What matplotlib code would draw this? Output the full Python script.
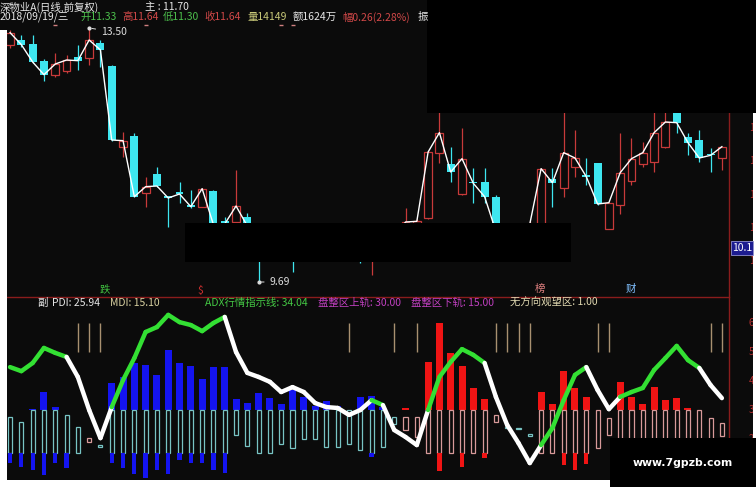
import numpy as np
import matplotlib
matplotlib.use('Agg')
import matplotlib.pyplot as plt
from matplotlib.patches import Rectangle
from matplotlib.transforms import blended_transform_factory

plt.rcParams['font.family'] = ['Noto Sans CJK SC', 'DejaVu Sans']

W, H = 756, 487
BG = '#0b0b0b'

### daily candles (price) ###
opens = [13.25, 13.32, 13.26, 13.01, 12.80, 12.86, 13.07, 13.05, 13.28, 12.93,
         11.72, 11.88, 11.03, 11.31, 10.97, 11.02, 10.83, 10.82, 11.06, 10.60,
         10.59, 10.66, 10.50, 10.20, 10.30, 10.30, 10.20, 10.28, 10.25, 10.38,
         10.30, 10.15, 10.05, 10.20, 10.30, 10.50, 10.58, 10.65, 11.63, 11.46,
         11.01, 11.19, 11.19, 10.97, 10.45, 10.30, 10.40, 10.40, 11.24, 11.10,
         11.42, 11.28, 11.48, 10.49, 10.85, 11.21, 11.46, 11.49, 11.72, 12.30,
         11.87, 11.82, 11.60, 11.55]
highs = [13.47, 13.40, 13.40, 13.04, 13.13, 13.10, 13.25, 13.50, 13.32, 12.95,
         11.94, 11.92, 11.27, 11.42, 10.98, 11.19, 11.07, 11.10, 11.07, 10.66,
         11.37, 10.73, 10.55, 10.35, 10.40, 10.40, 10.35, 10.40, 10.45, 10.45,
         10.38, 10.22, 10.30, 10.35, 10.42, 10.80, 10.64, 11.66, 12.30, 11.72,
         12.00, 11.40, 11.40, 11.00, 10.55, 10.50, 10.60, 11.40, 11.40, 12.30,
         11.97, 11.55, 11.48, 10.88, 11.93, 11.85, 11.79, 12.24, 12.35, 12.35,
         11.93, 11.97, 11.70, 11.72]
lows = [13.20, 13.22, 12.98, 12.71, 12.77, 12.83, 12.87, 12.95, 12.92, 11.80,
        11.57, 10.96, 10.82, 11.12, 10.52, 10.88, 10.80, 10.81, 10.52, 10.45,
        10.55, 10.48, 9.69, 10.10, 10.15, 9.84, 10.10, 10.15, 10.18, 10.22,
        10.10, 9.97, 9.80, 10.12, 10.20, 10.45, 10.50, 10.63, 11.48, 11.19,
        11.00, 10.88, 10.88, 10.40, 10.20, 10.22, 10.30, 10.38, 10.82, 10.97,
        11.27, 11.15, 10.85, 10.49, 10.71, 11.15, 11.42, 11.34, 11.70, 11.93,
        11.60, 11.49, 11.34, 11.37]
closes = [13.43, 13.25, 12.99, 12.80, 12.96, 13.02, 13.01, 13.32, 13.17, 11.82,
          11.81, 10.97, 11.12, 11.13, 10.95, 11.01, 10.82, 11.09, 10.55, 10.56,
          10.83, 10.53, 10.20, 10.30, 10.22, 10.20, 10.28, 10.25, 10.38, 10.30,
          10.15, 10.05, 10.20, 10.30, 10.35, 10.59, 10.60, 11.64, 11.93, 11.34,
          11.54, 11.17, 10.97, 10.45, 10.30, 10.40, 10.56, 11.39, 11.18, 11.63,
          11.55, 11.27, 10.86, 10.88, 11.33, 11.54, 11.63, 11.93, 12.09, 12.08,
          11.78, 11.55, 11.59, 11.72]
top_marks = [4, 12, 24, 25]
price_ticks = [10.0, 10.5, 11.0, 11.5, 12.0]

### ADX panel ###
adx = [44.8, 43.4, 46.2, 51.4, 49.7, 48.3, 41.4, 30.0, 20.3, 31.0,
       40.3, 47.9, 56.9, 58.6, 62.8, 60.3, 59.3, 57.2, 60.0, 62.1,
       50.0, 42.8, 41.4, 39.7, 36.2, 37.9, 36.2, 32.4, 31.0, 30.7,
       28.3, 30.0, 33.4, 31.7, 23.1, 20.7, 17.9, 30.0, 41.4, 46.6,
       51.0, 49.0, 46.2, 34.5, 24.8, 18.6, 11.7, 17.9, 23.8, 33.4,
       42.1, 44.8, 36.9, 30.3, 34.5, 36.2, 37.6, 43.8, 47.9, 52.1,
       47.2, 44.5, 38.6, 34.1]
adx_green = [1, 1, 1, 1, 1, 1, 0, 0, 0, 0, 1, 1, 1, 1, 1, 1, 1, 1, 1, 1,
             0, 0, 0, 0, 0, 0, 0, 0, 0, 0, 0, 0, 0, 1, 0, 0, 0, 0, 1, 1,
             1, 1, 1, 0, 0, 0, 0, 0, 1, 1, 1, 1, 0, 0, 0, 1, 1, 1, 1, 1,
             1, 1, 0, 0]
bull = [0] * 7 + [1] + [0] * 27 + [1] * 9 + [0] * 3 + [1] * 17
N = None
up_bar = [N, N, 30.3, 36.2, 31.0, N, N, N, N, 39.3,
          41.4, 46.2, 45.5, 42.1, 50.7, 46.2, 45.2, 40.7, 44.8, 44.8,
          33.8, 32.4, 35.9, 34.1, 32.1, 36.9, 34.5, 31.4, 33.1, 31.4,
          N, 34.5, 34.8, 31.0, N, 30.7, N, 46.6, 60.0, 49.7,
          45.2, 37.6, 33.8, N, N, N, N, 36.2, 32.1, 43.4,
          37.6, 34.5, N, N, 39.7, 34.5, 32.1, 37.9, 33.4, 34.1,
          30.7, N, N, N]
hollow_top = [27.6, 25.9, 30, 30, 30, 28.3, 24.1, 20.3, 17.9, 30,
              30, 30, 30, 30, 30, 30, 30, 30, 30, 30,
              30, 30, 30, 30, 30, 30, 30, 30, 30, 30,
              30, 30, 30, 30, 27.6, 27.6, 27.6, 30, 30, 30,
              30, 30, 30, 28.3, 24.1, 23.8, 21.7, 30, 30, 30,
              30, 30, 30, 27.2, 30, 30, 30, 30, 30, 30,
              30, 30, 27.2, 25.5]
hollow_bot = [15, 15, 15, 15, 15, 15, 15, 19.0, 17.2, 15,
              15, 15, 15, 15, 15, 15, 15, 15, 15, 15,
              21.4, 17.6, 15.2, 15.2, 18.3, 16.9, 20.0, 20.0, 17.2, 17.2,
              18.3, 16.2, 15, 17.2, 25.2, 23.1, 20.7, 15, 15, 15,
              15, 15.2, 15, 25.9, 23.8, 23.4, 21.0, 15.2, 15, 15,
              15, 15, 16.9, 21.4, 15, 16, 17, 16, 17, 18,
              18, 19, 20, 21]
low_bar = [11.7, 10.3, 9.3, 7.6, 11.7, 10.0, N, N, N, 11.7,
           10.0, 7.9, 6.6, 9.3, 7.9, 12.8, 11.7, 11.7, 9.3, 8.3,
           N, N, N, N, N, N, N, N, N, N,
           N, N, 13.8, N, N, N, N, N, 9.0, N,
           10.3, N, 13.4, N, N, N, N, N, N, 11.0,
           9.3, 11.4, N, N, N, N, N, N, N, N,
           N, N, N, N]
watch_idx = [6, 7, 8, 30, 34, 36, 43, 44, 45, 46, 52, 53, 62, 63]
adx_ticks = [20, 30, 40, 50, 60]

up_bar = np.array(up_bar, dtype=float)
low_bar = np.array(low_bar, dtype=float)


def box(x0, y0, x1, y1, color, z=5, **kw):
    r = Rectangle((x0 / W, 1 - y1 / H), (x1 - x0) / W, (y1 - y0) / H,
                  transform=fig.transFigure, facecolor=color, zorder=z, **kw)
    fig.add_artist(r)


fig = plt.figure(figsize=(W / 100, H / 100), dpi=100, facecolor=BG)
ax = fig.add_axes([7 / W, 1 - 296 / H, 722 / W, 296 / H], facecolor=BG)
ax2 = fig.add_axes([7 / W, 1 - 480 / H, 722 / W, 183 / H], facecolor=BG)
for a in (ax, ax2):
    a.set_xlim(-0.27, 63.63)
    a.set_xticks([])
    a.set_yticks([])
    for s in a.spines.values():
        s.set_visible(False)
ax.set_ylim(9.48, 13.92)
ax2.set_ylim(5.86, 68.97)

### candles ###
UP = '#c83a3a'
DN = '#3ee6f0'
x = np.arange(len(opens))
for i in x:
    o, h, l, c = opens[i], highs[i], lows[i], closes[i]
    if c > o:
        ax.vlines(i, c, h, color=UP, lw=0.9)
        ax.vlines(i, l, o, color=UP, lw=0.9)
        ax.add_patch(Rectangle((i - 0.35, o), 0.7, c - o, fill=False, ec=UP, lw=0.9))
    else:
        ax.vlines(i, l, h, color=DN, lw=0.9)
        ax.add_patch(Rectangle((i - 0.35, c), 0.7, max(o - c, 0.025), facecolor=DN, lw=0))
ax.plot(x, closes, color='white', lw=1, zorder=3)
ax.plot(top_marks, [13.545] * len(top_marks), ls='none', marker='_', ms=3, color='#d08080')

ax.plot(7, 13.50, 'o', ms=2, color='#dddddd')
ax.annotate('13.50', xy=(7, 13.50), xytext=(12, -4), textcoords='offset pixels',
            color='#dddddd', fontsize=7.5, va='center',
            arrowprops=dict(arrowstyle='-', color='#dddddd', lw=0.7))
ax.plot(22, 9.69, 'o', ms=2, color='#dddddd')
ax.annotate('9.69', xy=(22, 9.69), xytext=(11, 0), textcoords='offset pixels',
            color='#dddddd', fontsize=7.5, va='center',
            arrowprops=dict(arrowstyle='-', color='#dddddd', lw=0.7))

# axis labels sit at the cropped right edge, only their first digit shows
tr = blended_transform_factory(ax.transAxes, ax.transData)
for p in price_ticks:
    ax.text(1.0275, p, '%.1f' % p, transform=tr, color='#b83030', fontsize=7,
            va='center', clip_on=False)

# signal words cut by the lower panel
ax.text(8.4, 9.58, '跌', color='#40c040', fontsize=7.5, ha='center', va='center', clip_on=False)
ax.text(16.8, 9.56, '$', color='#d03030', fontsize=7.5, ha='center', va='center', clip_on=False)
ax.text(46.9, 9.58, '榜', color='#e08080', fontsize=7.5, ha='center', va='center', clip_on=False)
ax.text(54.9, 9.58, '财', color='#80c0ff', fontsize=7.5, ha='center', va='center', clip_on=False)

### ADX panel ###
BLUE = '#1414f0'
RED = '#f01414'
for i in x:
    col = RED if bull[i] else BLUE
    edge = '#d89a9a' if bull[i] else '#78c4c4'
    if not np.isnan(up_bar[i]):
        ax2.bar(i, up_bar[i] - 30, bottom=30, width=0.62, color=col)
    ax2.add_patch(Rectangle((i - 0.18, hollow_bot[i]), 0.36, hollow_top[i] - hollow_bot[i],
                            fill=False, ec=edge, lw=0.9))
    if not np.isnan(low_bar[i]):
        ax2.bar(i, low_bar[i] - 15, bottom=15, width=0.38, color=col)

ax2.vlines(watch_idx, 50, 60, color='#a89070', lw=1)

for i in range(1, len(adx)):
    col = '#33e033' if adx_green[i] else 'white'
    ax2.plot([i - 1, i], [adx[i - 1], adx[i]], color=col, lw=3.2,
             solid_capstyle='round', zorder=4)

tr2 = blended_transform_factory(ax2.transAxes, ax2.transData)
for v in adx_ticks:
    ax2.text(1.0275, v, '%d' % v, transform=tr2, color='#b83030', fontsize=7,
             va='center', clip_on=False)

### frame lines ###
fig.add_artist(plt.Line2D([7 / W, 729 / W], [1 - 297 / H] * 2, transform=fig.transFigure,
                          color='#8a1c1c', lw=1, zorder=4))
fig.add_artist(plt.Line2D([729 / W] * 2, [1 - 480 / H, 1.0], transform=fig.transFigure,
                          color='#8a1c1c', lw=1, zorder=4))

### covers ###
box(427, 0, 756, 113, '#000000')
box(185, 223, 571, 262, '#000000')
box(610, 438, 756, 487, '#000000')
box(0, 30, 7, 487, 'white')
box(0, 480, 610, 487, 'white')
box(753, 113, 756, 438, 'white')
box(731, 241, 753, 255, '#1c1c90', z=6, edgecolor='#9090d0', lw=0.6)
fig.text(742 / W, 1 - 248 / H, '10.1', color='white', fontsize=7.5,
         ha='center', va='center', zorder=7)
fig.text(683 / W, 1 - 463 / H, 'www.7gpzb.com', color='white', fontsize=7.8,
         fontweight='bold', ha='center', va='center', zorder=7,
         family='DejaVu Sans')

### header texts ###
FS = 7.5
def htext(px, py, s, color):
    fig.text(px / W, 1 - py / H, s, color=color, fontsize=FS, va='center', zorder=7)

htext(0, 7, '深物业A(日线,前复权)', '#e6e6e6')
htext(145, 7, '主 : 11.70', '#e6e6e6')
htext(0, 17, '2018/09/19/三', '#e6e6e6')
htext(80, 17, '开11.33', '#4cc04c')
htext(122, 17, '高11.64', '#d04848')
htext(163, 17, '低11.30', '#4cc04c')
htext(204, 17, '收11.64', '#d04848')
htext(247, 17, '量14149', '#c8c878')
htext(293, 17, '额1624万', '#e6e6e6')
htext(342, 17, '幅0.26(2.28%)', '#d04848')
htext(418, 17, '振', '#e6e6e6')

htext(37, 303, '副', '#e6e6e6')
htext(52, 303, 'PDI: 25.94', '#e6e6e6')
htext(110, 303, 'MDI: 15.10', '#d8d0a0')
htext(205, 303, 'ADX行情指示线: 34.04', '#44c844')
htext(318, 303, '盘整区上轨: 30.00', '#c040c0')
htext(411, 303, '盘整区下轨: 15.00', '#c040c0')
htext(510, 303, '无方向观望区: 1.00', '#e0d8b0')

fig.savefig('out.png', dpi=100, facecolor=BG)
